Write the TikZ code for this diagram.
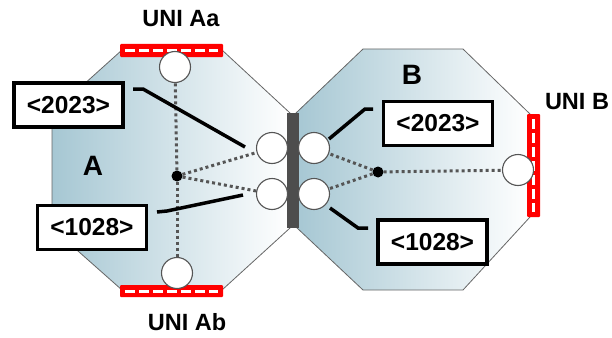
\documentclass[tikz,border=0pt]{standalone}
\usepackage{fontspec}
\setmainfont{Liberation Sans}
\usetikzlibrary{calc}
\definecolor{octa}{HTML}{A6C7D3}
\definecolor{barg}{HTML}{4D4D4D}
\definecolor{dotg}{HTML}{555555}
\tikzset{
  octa/.style={draw=gray!80!black,line width=0.8pt,left color=octa,right color=white}, % switch body
  port/.style={circle,draw=dotg,fill=white,line width=1.1pt,minimum size=31pt,inner sep=0pt},
  hub/.style={circle,fill=black,inner sep=0pt,minimum size=11pt},
  link/.style={dotg,line width=3pt,dash pattern=on 3pt off 3pt},
  vlan/.style={draw=black,line width=3.8pt,fill=white,minimum width=109pt,minimum height=44pt,
    inner sep=0pt,font=\fontsize{24.5}{27}\selectfont\bfseries},
  pointer/.style={black,line width=3.5pt},
  unitext/.style={font=\fontsize{23.5}{26}\selectfont\bfseries},
  swtext/.style={font=\fontsize{28}{30}\selectfont\bfseries},
}
\newcommand{\unibar}[4]{% x1, y1, x2, y2
  \fill[red,rounded corners=1pt] (#1,#2) rectangle (#3,#4);
  \draw[white,line width=3pt,dash pattern=on 10pt off 4pt]
    ($(#1,#2)!0.5!(#3,#4)$) ++({-(#3-#1)/2+5},{0}) -- ++({#3-#1-10},{0});
}
\newcommand{\unibarv}[4]{% x1, y1, x2, y2
  \fill[red,rounded corners=1pt] (#1,#2) rectangle (#3,#4);
  \draw[white,line width=3pt,dash pattern=on 10pt off 4pt]
    ($(#1,#2)!0.5!(#3,#4)$) ++({0},{-(#4-#2)/2+5}) -- ++({0},{#4-#2-10});
}

\begin{document}
\begin{tikzpicture}[x=1pt,y=-1pt]
  \useasboundingbox (0,0) rectangle (612,337);
  % the two switches
  \path[octa] (52,113) -- (122,50) -- (222,50) -- (290,113) -- (290,228)
    -- (222,290) -- (122,290) -- (52,228) -- cycle;
  \path[octa] (296,113) -- (363,49) -- (463,49) -- (530,114) -- (530,217)
    -- (463,290) -- (363,290) -- (296,227) -- cycle;
  \fill[barg] (287,113) rectangle (299,228);
  % UNI ports
  \unibar{120}{44}{223}{57}
  \unibar{120}{285}{223}{297}
  \unibarv{527}{114}{540}{217}
  \node[swtext] (swA) at (93,166) {A};
  \node[swtext] (swB) at (412,75) {B};
  \node[unitext] (uniAa) at (181,19) {UNI Aa};
  \node[unitext] (uniAb) at (187,322) {UNI Ab};
  \node[unitext] (uniB) at (577,102) {UNI B};
  % ports and hubs
  \node[port] (pAa) at (175,67) {};
  \node[port] (pAb) at (177,273) {};
  \node[port] (pA1) at (272,148) {};
  \node[port] (pA2) at (272,194) {};
  \node[port] (pB1) at (314,148) {};
  \node[port] (pB2) at (314,194) {};
  \node[port] (pB) at (518,170) {};
  \node[hub] (hA) at (177,176) {};
  \node[hub] (hB) at (378,172) {};
  \draw[link] (hA) -- (pAa);
  \draw[link] (hA) -- (pAb);
  \draw[link] (hA) -- (pA1);
  \draw[link] (hA) -- (pA2);
  \draw[link] (hB) -- (pB1);
  \draw[link] (hB) -- (pB2);
  \draw[link] (hB) -- (pB);
  % VLAN tags
  \node[vlan] (vA1) at (68.5,105) {<2023>};
  \node[vlan] (vA2) at (92,227.5) {<1028>};
  \node[vlan] (vB1) at (438,123.5) {<2023>};
  \node[vlan] (vB2) at (432.5,242) {<1028>};
  \coordinate (kA1) at (245,147);
  \coordinate (kA2) at (243,195);
  \coordinate (kB1) at (329,139);
  \coordinate (kB2) at (330,208);
  \draw[pointer] (133,89) -- (143,89) -- (kA1);
  \draw[pointer] (157,212) -- (167,211) -- (kA2);
  \draw[pointer] (373,109) -- (365,109) -- (kB1);
  \draw[pointer] (368,228) -- (358,228) -- (kB2);
\end{tikzpicture}
\end{document}
